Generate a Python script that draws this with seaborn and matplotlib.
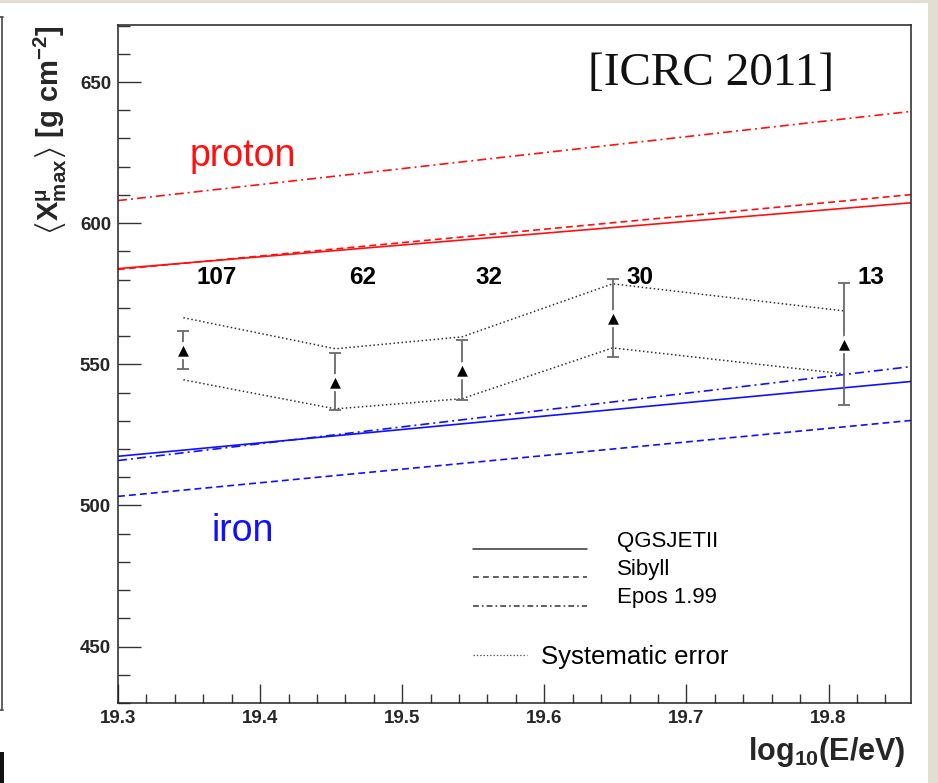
import matplotlib
matplotlib.use("Agg")
import matplotlib.pyplot as plt
from matplotlib.lines import Line2D
from matplotlib.patches import Rectangle
from matplotlib.ticker import MultipleLocator, FormatStrFormatter
import pandas as pd
import seaborn as sns

# Measured mean muon production depth per energy bin
energy = [19.346, 19.453, 19.542, 19.648, 19.811]
xmax_mu = [555.1, 543.8, 548.0, 566.5, 557.3]
stat_err = [6.7, 10.1, 10.5, 13.8, 21.6]
sys_upper = [566.5, 555.5, 559.7, 578.5, 568.9]
sys_lower = [544.5, 534.2, 537.8, 555.8, 546.6]
n_events = [107, 62, 32, 30, 13]

# Model predictions at the two ends of the energy range
model_energy = [19.30, 19.86]
proton_qgsjet = [583.9, 607.3]
proton_sibyll = [583.6, 610.2]
proton_epos = [608.0, 639.7]
iron_qgsjet = [517.4, 544.0]
iron_sibyll = [503.2, 530.2]
iron_epos = [515.9, 549.3]

model_names = ["QGSJETII", "Sibyll", "Epos 1.99"]

sns.set_style("white")
plt.rcParams["font.family"] = ["Liberation Sans", "DejaVu Sans"]
plt.rcParams["mathtext.fontset"] = "custom"
plt.rcParams["mathtext.rm"] = "Liberation Sans"
plt.rcParams["mathtext.bf"] = "Liberation Sans:bold"
plt.rcParams["mathtext.it"] = "Liberation Sans:italic"
plt.rcParams["mathtext.fallback"] = "stixsans"
plt.rcParams["lines.scale_dashes"] = False

# long-form table of the model lines
rows = []
for prim, vals in [("proton", [proton_qgsjet, proton_sibyll, proton_epos]),
                   ("iron", [iron_qgsjet, iron_sibyll, iron_epos])]:
    for name, v in zip(model_names, vals):
        for e, d in zip(model_energy, v):
            rows.append({"energy": e, "depth": d, "primary": prim, "model": name})
models = pd.DataFrame(rows)

sys_rows = []
for bound, vals in [("upper", sys_upper), ("lower", sys_lower)]:
    for e, d in zip(energy, vals):
        sys_rows.append({"energy": e, "depth": d, "bound": bound})
systematics = pd.DataFrame(sys_rows)

points = pd.DataFrame({"energy": energy, "depth": xmax_mu, "err": stat_err, "n": n_events})

DPI = 100
fig = plt.figure(figsize=(9.38, 7.83), dpi=DPI)
fig.patch.set_facecolor("#e2ded1")
fig.patches.append(Rectangle((0, 0), 928 / 938, 1 - 3 / 783, transform=fig.transFigure,
                             facecolor="white", edgecolor="none", zorder=-10))
# edge of the neighbouring panel
for xs, ys in [([2 / 938, 2 / 938], [1 - 17 / 783, 1 - 710 / 783]),
               ([0, 3 / 938], [1 - 710 / 783, 1 - 710 / 783]),
               ([0, 3 / 938], [1 - 17 / 783, 1 - 17 / 783])]:
    fig.lines.append(Line2D(xs, ys, transform=fig.transFigure, color="#555555",
                            lw=1.3, zorder=-5))
fig.patches.append(Rectangle((0, 0), 4 / 938, 31 / 783, transform=fig.transFigure,
                             facecolor="#111111", edgecolor="none", zorder=-5))

ax = fig.add_axes([118 / 938, 1 - 703 / 783, (911 - 118) / 938, (703 - 25) / 783])
ax.set_zorder(2)
ax.set_facecolor("white")

dash_map = {"QGSJETII": "", "Sibyll": (5, 2.9), "Epos 1.99": (6.5, 2.9, 1.4, 2.9)}
sns.lineplot(data=models, x="energy", y="depth", hue="primary", style="model",
             palette={"proton": "#ff1010", "iron": "#1010ff"}, dashes=dash_map,
             units="model", estimator=None, sort=False, legend=False, lw=1.2, ax=ax)

sns.lineplot(data=systematics, x="energy", y="depth", units="bound", estimator=None,
             sort=False, color="#333333", lw=1.1, linestyle=(0, (1.1, 1.8)), ax=ax)

ax.errorbar(points["energy"], points["depth"], yerr=points["err"], fmt="none",
            ecolor="#6a6a6a", elinewidth=1.3, capsize=4, capthick=1.3, zorder=3)
sns.scatterplot(data=points, x="energy", y="depth", marker="^", s=115, color="black",
                edgecolor="white", linewidth=1.8, zorder=4, ax=ax)

for e, n in zip(energy, n_events):
    ax.text(e + 0.0095, 580.6, str(n), ha="left", va="center", fontsize=17.5,
            fontweight="bold", color="black")

ax.text(19.3506, 620.3, "proton", color="#ff1010", fontsize=27, ha="left", va="baseline")
ax.text(19.3661, 487.5, "iron", color="#1010ff", fontsize=27, ha="left", va="baseline")

ax.text(0.5927, 0.9115, "[ICRC 2011]", transform=ax.transAxes, fontsize=34,
        family=["Liberation Serif", "DejaVu Serif"], ha="left", va="baseline", color="#111111")


# hand-placed legend
def ax_x(px):
    return (px - 118) / 793


def ax_y(py):
    return (703 - py) / 678


legend_styles = [("QGSJETII", "-", 549, 542),
                 ("Sibyll", (0, (4.2, 3.0)), 577, 570),
                 ("Epos 1.99", (0, (4.2, 2.2, 1.2, 2.2)), 606, 598)]
for label, ls, ly, ty in legend_styles:
    ax.add_line(Line2D([ax_x(473), ax_x(587)], [ax_y(ly), ax_y(ly)], transform=ax.transAxes,
                       color="#333333", lw=1.1, linestyle=ls))
    ax.text(ax_x(617), ax_y(ty), label, transform=ax.transAxes, fontsize=16,
            ha="left", va="center", color="black")
ax.add_line(Line2D([ax_x(473), ax_x(527)], [ax_y(655), ax_y(655)], transform=ax.transAxes,
                   color="#555555", lw=0.9, linestyle=(0, (1.0, 1.4))))
ax.text(ax_x(541), ax_y(657), "Systematic error", transform=ax.transAxes, fontsize=18.5,
        ha="left", va="center", color="black")

ax.set_xlim(19.3, 19.858)
ax.set_ylim(430, 670.2)
ax.xaxis.set_major_locator(MultipleLocator(0.1))
ax.xaxis.set_minor_locator(MultipleLocator(0.02))
ax.yaxis.set_major_locator(MultipleLocator(50))
ax.yaxis.set_minor_locator(MultipleLocator(10))
ax.xaxis.set_major_formatter(FormatStrFormatter("%.1f"))
ax.yaxis.set_major_formatter(FormatStrFormatter("%d"))
ax.tick_params(axis="both", which="both", direction="in", color="#333333", width=1.0,
               top=False, right=False, bottom=True, left=True)
ax.tick_params(axis="y", which="major", length=16.5, pad=5)
ax.tick_params(axis="y", which="minor", length=8.6)
ax.tick_params(axis="x", which="major", length=13.7, pad=5)
ax.tick_params(axis="x", which="minor", length=6.5)
for lab in ax.get_xticklabels() + ax.get_yticklabels():
    lab.set_fontweight("bold")
    lab.set_fontsize(13.5)
for spine in ax.spines.values():
    spine.set_color("#222222")
    spine.set_linewidth(1.1)

ax.set_xlabel(r"$\mathbf{log_{10}(E/eV)}$", fontsize=22, loc="right")
ax.xaxis.set_label_coords(0.993, -0.047)
ax.set_ylabel(r"$\mathbf{\left\langle X^{\mu}_{max}\right\rangle}$ [g cm$^{\mathbf{-2}}$]",
              fontsize=21, fontweight="bold", loc="top")
ax.yaxis.set_label_coords(-0.062, 1.0)

fig.savefig("out.png", dpi=DPI, facecolor=fig.get_facecolor())
